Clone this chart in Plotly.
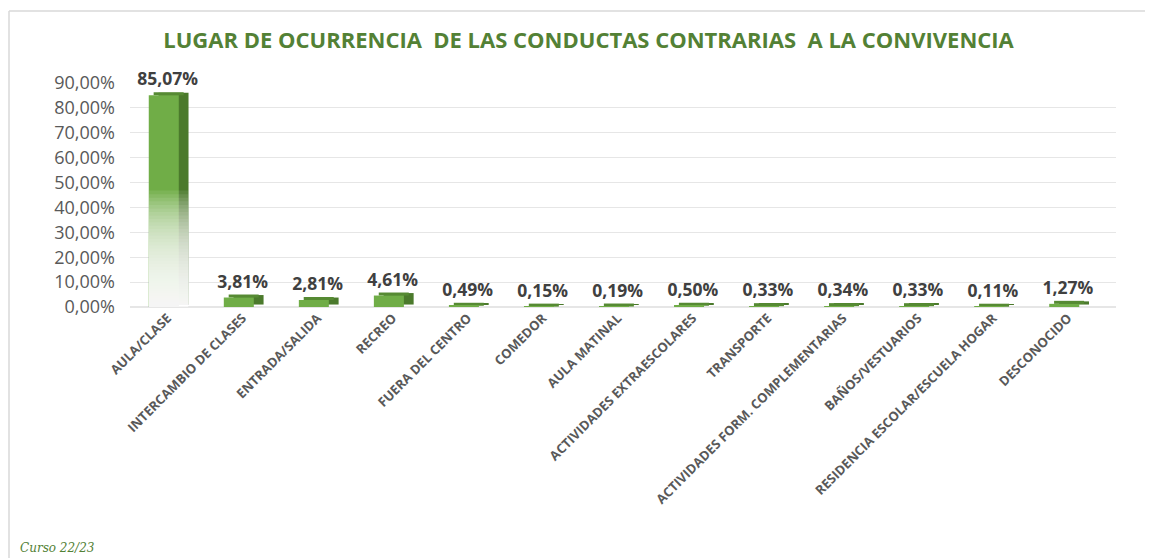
import plotly.graph_objects as go

categories = ["AULA/CLASE", "INTERCAMBIO DE CLASES", "ENTRADA/SALIDA", "RECREO",
              "FUERA DEL CENTRO", "COMEDOR", "AULA MATINAL", "ACTIVIDADES EXTRAESCOLARES",
              "TRANSPORTE", "ACTIVIDADES FORM. COMPLEMENTARIAS", "BAÑOS/VESTUARIOS",
              "RESIDENCIA ESCOLAR/ESCUELA HOGAR", "DESCONOCIDO"]
values = [0.8507, 0.0381, 0.0281, 0.0461, 0.0049, 0.0015, 0.0019, 0.0050,
          0.0033, 0.0034, 0.0033, 0.0011, 0.0127]
labels = ["85,07%", "3,81%", "2,81%", "4,61%", "0,49%", "0,15%", "0,19%", "0,50%",
          "0,33%", "0,34%", "0,33%", "0,11%", "1,27%"]
yticks = [0, 0.1, 0.2, 0.3, 0.4, 0.5, 0.6, 0.7, 0.8, 0.9]

DEPTH_Y = 0.022   # visual depth of 3D effect, in axis units
FRONT = "#70AD47"
SIDE = "#4B7A2C"
GREEN_T = "#538135"

W, H = 1145, 550
L, T, PW, PH = 122, 75, 986, 224

fig = go.Figure()

# back/side face (3D depth)
fig.add_trace(go.Bar(
    x=categories, y=values, base=[DEPTH_Y * 0.45] * len(values),
    offset=-0.12, width=0.4, marker=dict(color=SIDE, line=dict(width=0)),
    hoverinfo="skip", showlegend=False))
# top face
fig.add_trace(go.Bar(
    x=categories, y=[DEPTH_Y * 0.55] * len(values), base=values,
    offset=-0.185, width=0.4, marker=dict(color="#568A33", line=dict(width=0)),
    hoverinfo="skip", showlegend=False))
# front face
fig.add_trace(go.Bar(
    x=categories, y=values, offset=-0.25, width=0.4,
    marker=dict(color=FRONT, line=dict(width=0)),
    showlegend=False))

# white fade at the bottom of the tallest bar (gradient fill effect):
# cumulative translucent white layers, each starting at the floor
n_fade = 40
fade_top = values[0] * 0.55
for k in range(n_fade):
    frac = ((k + 1) / n_fade) ** 1.25
    fig.add_trace(go.Bar(
        x=[categories[0]], y=[fade_top * frac], base=[0],
        offset=-0.25, width=0.53,
        marker=dict(color="rgba(255,255,255,0.085)", line=dict(width=0)),
        hoverinfo="skip", showlegend=False))

# data labels
fig.add_trace(go.Scatter(
    x=categories, y=[v + DEPTH_Y for v in values], mode="text", text=labels,
    textposition="top center",
    textfont=dict(family="Open Sans", size=17.5, color="#404040", weight="bold"),
    hoverinfo="skip", showlegend=False, cliponaxis=False))

fig.update_layout(
    width=W, height=H,
    margin=dict(l=L, r=W - L - PW, t=T, b=H - T - PH),
    paper_bgcolor="white", plot_bgcolor="white",
    barmode="overlay",
    separators=",.",
    title=dict(
        text="LUGAR DE OCURRENCIA&nbsp; DE LAS CONDUCTAS CONTRARIAS&nbsp; A LA CONVIVENCIA",
        x=0.507, xanchor="center", y=1 - 32 / H, yanchor="middle",
        font=dict(family="Open Sans", size=22, color=GREEN_T, weight="bold")),
    xaxis=dict(
        type="category", range=[-0.5, 12.64], tickangle=-45, automargin=False,
        tickfont=dict(family="Open Sans", size=13, color="#595959", weight="bold"),
        showgrid=False, showline=False, ticks="", zeroline=False),
    yaxis=dict(
        range=[0, 0.9], tickvals=yticks, tickformat=".2%", automargin=False,
        tickfont=dict(family="Open Sans", size=18, color="#595959"),
        showgrid=True, gridcolor="#E6E6E6", gridwidth=1,
        zeroline=True, zerolinecolor="#E6E6E6", showline=False, ticks="",
        ticklabelstandoff=14),
    shapes=[
        dict(type="line", xref="paper", yref="paper",
             x0=(1 - L) / PW, x1=1.2, y0=1 + (T - 3) / PH, y1=1 + (T - 3) / PH,
             line=dict(color="#D9D9D9", width=1.5), layer="below"),
        dict(type="line", xref="paper", yref="paper",
             x0=(1 - L) / PW, x1=(1 - L) / PW, y0=-1.5, y1=1 + (T - 3) / PH,
             line=dict(color="#D9D9D9", width=1.5), layer="below"),
    ],
    annotations=[dict(text="<i>Curso 22/23</i>", xref="paper", yref="paper",
                      x=(10 - L) / PW, y=-(540 - T - PH) / PH, xanchor="left",
                      yanchor="middle", showarrow=False,
                      font=dict(family="DejaVu Serif", size=12, color=GREEN_T))],
)

fig.write_html("out.html")
